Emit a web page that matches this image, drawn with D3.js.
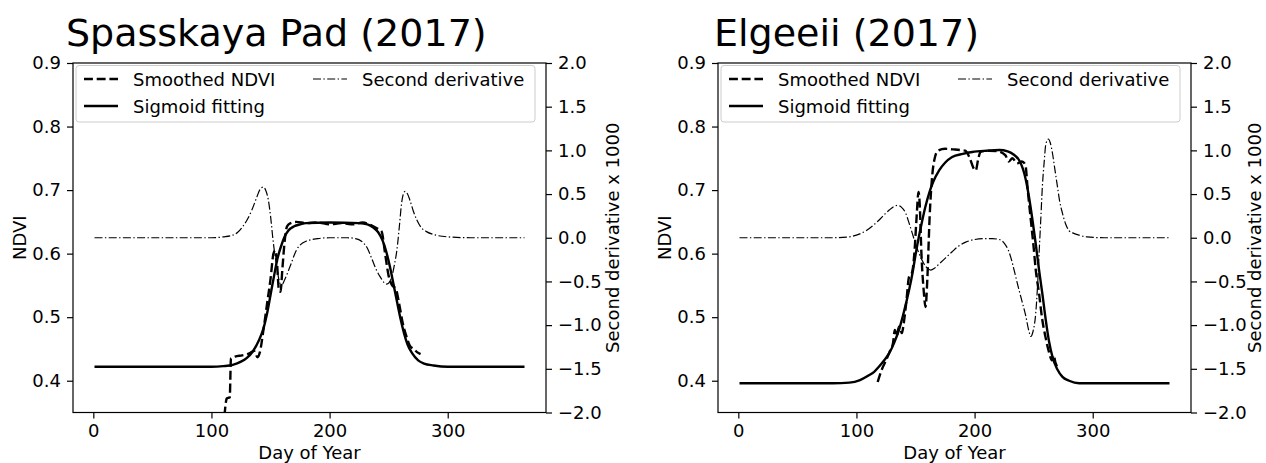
<!DOCTYPE html>
<html><head><meta charset="utf-8">
<script src="https://cdn.jsdelivr.net/npm/d3@7"></script>
<style>
body{margin:0;background:#fff}
svg{display:block}
text{font-family:"DejaVu Sans",sans-serif;fill:#000}
</style>
</head><body>
<svg id="c" width="1266" height="463"></svg>
<script>
const titles = ["Spasskaya Pad (2017)", "Elgeeii (2017)"];
const xTicks = [0, 100, 200, 300];
const ndviTicks = [0.4, 0.5, 0.6, 0.7, 0.8, 0.9];
const d2Ticks = [-2, -1.5, -1, -0.5, 0, 0.5, 1, 1.5, 2];
const legendLabels = ["Smoothed NDVI", "Second derivative", "Sigmoid fitting"];
const axisLabels = ["Day of Year", "NDVI", "Second derivative x 1000"];

// Spasskaya Pad: [day, value]
const spasskayaSmoothed = [[111,0.345],[113,0.372],[115.5,0.374],[116.5,0.435],[120,0.438],[126,0.44],[132,0.443],[136,0.447],[139,0.437],[141,0.445],[144,0.48],[147,0.52],[150,0.56],[152.5,0.6],[154,0.605],[155.5,0.585],[157,0.545],[158.5,0.54],[160,0.575],[162,0.62],[164,0.643],[167,0.648],[172,0.65],[180,0.648],[190,0.649],[200,0.646],[210,0.648],[220,0.646],[228,0.649],[235,0.645],[240,0.64],[244,0.635],[247,0.6],[250,0.565],[253,0.55],[256,0.545],[259,0.52],[262,0.49],[265,0.47],[268,0.455],[271,0.45],[274,0.445],[277,0.442]];
const spasskayaSigmoid = [[1,0.422],[100,0.422],[110,0.423],[118,0.425],[125,0.43],[130,0.436],[135,0.446],[140,0.463],[144,0.482],[147,0.505],[150,0.535],[153,0.565],[156,0.593],[159,0.612],[162,0.627],[165,0.636],[170,0.643],[175,0.646],[180,0.648],[200,0.649],[225,0.648],[232,0.646],[237,0.641],[241,0.634],[245,0.62],[248,0.603],[251,0.58],[254,0.553],[257,0.525],[260,0.498],[263,0.475],[266,0.457],[270,0.443],[275,0.432],[280,0.427],[288,0.424],[300,0.422],[365,0.422]];
const spasskayaDeriv = [[1,0],[100,0],[110,0.01],[118,0.03],[122,0.06],[126,0.12],[130,0.2],[134,0.31],[138,0.45],[141,0.55],[144,0.58],[146,0.54],[148.2,0.43],[150,0.25],[152.4,-0.06],[155.3,-0.33],[158,-0.52],[160,-0.53],[162,-0.48],[166.5,-0.33],[172,-0.14],[180,-0.04],[190,-0.01],[200,0],[215,0],[222,-0.01],[227,-0.04],[232,-0.12],[236,-0.25],[240,-0.38],[243,-0.45],[246,-0.51],[248.4,-0.53],[251,-0.5],[253,-0.43],[255,-0.3],[257,-0.14],[259,0.12],[261,0.4],[263,0.52],[264,0.53],[266,0.5],[268,0.43],[271,0.3],[274,0.2],[278,0.11],[282,0.07],[290,0.03],[300,0.01],[320,0],[365,0]];

// Elgeeii: [day, value]
const elgeeiiSmoothed = [[118,0.398],[120,0.41],[122,0.42],[125,0.432],[128,0.445],[131,0.46],[132.5,0.48],[134,0.47],[136,0.485],[138.5,0.475],[140,0.49],[142,0.52],[144.6,0.564],[147,0.57],[149,0.6],[151,0.66],[152.5,0.697],[153.5,0.68],[155,0.6],[157,0.54],[158.5,0.516],[160,0.56],[162,0.66],[164.3,0.726],[166.5,0.752],[169,0.762],[175,0.765],[182,0.764],[188,0.763],[192,0.762],[196,0.75],[199,0.735],[201,0.731],[203,0.748],[205,0.76],[212,0.762],[220,0.761],[226,0.755],[229,0.745],[232,0.75],[236,0.742],[240,0.745],[243,0.74],[245,0.7],[247.6,0.653],[250,0.61],[251.8,0.574],[254.6,0.537],[257,0.5],[260,0.469],[263,0.445],[265.5,0.432],[267,0.44],[268.5,0.428],[270,0.422]];
const elgeeiiSigmoid = [[1,0.396],[80,0.396],[94,0.397],[103,0.401],[110,0.408],[115,0.414],[119,0.422],[123,0.431],[127.6,0.443],[132,0.46],[136,0.48],[140,0.507],[144.6,0.543],[147.5,0.57],[150.2,0.6],[153,0.628],[155.8,0.653],[158.5,0.675],[161.5,0.695],[165,0.713],[170,0.731],[175,0.743],[181,0.752],[190,0.757],[198,0.76],[210,0.762],[221,0.763],[228,0.761],[233,0.756],[237.7,0.747],[241,0.733],[243.4,0.716],[246,0.69],[249,0.653],[252,0.612],[254.6,0.574],[257.5,0.535],[260.3,0.495],[263,0.462],[266,0.437],[270,0.418],[274.4,0.406],[280,0.4],[288.5,0.396],[365,0.396]];
const elgeeiiDeriv = [[1,0],[80,0],[94,0.01],[100,0.03],[108,0.08],[114,0.14],[119,0.2],[124,0.27],[128,0.32],[132,0.36],[135,0.37],[138,0.35],[141.7,0.28],[144.5,0.17],[147.3,0.05],[150,-0.07],[153,-0.18],[156,-0.27],[158.7,-0.33],[162.9,-0.37],[166,-0.35],[170,-0.3],[175.5,-0.23],[181,-0.16],[186,-0.1],[192.5,-0.05],[200,-0.02],[207,-0.01],[215,-0.01],[221,-0.02],[225.5,-0.07],[228.5,-0.14],[231.2,-0.25],[234,-0.4],[236.9,-0.56],[240,-0.72],[243.4,-0.9],[246,-1.07],[247.6,-1.13],[249.5,-1.07],[251.8,-0.86],[253.3,-0.55],[254.6,-0.18],[256,0.2],[257.4,0.59],[259,0.88],[260.3,1.07],[262.5,1.13],[264,1.09],[265.9,0.97],[268,0.78],[270.1,0.59],[272,0.42],[274.4,0.28],[277,0.16],[280,0.08],[284,0.05],[288.5,0.03],[295,0.01],[310,0],[365,0]];

const panels = [
  {title: titles[0], smoothed: spasskayaSmoothed, sigmoid: spasskayaSigmoid, deriv: spasskayaDeriv, left: 73, titleX: 66, y2LabelOff: 73},
  {title: titles[1], smoothed: elgeeiiSmoothed, sigmoid: elgeeiiSigmoid, deriv: elgeeiiDeriv, left: 718, titleX: 714, y2LabelOff: 70}
];

const svg = d3.select("#c");
const W = 473, plotTop = 63, plotBottom = 412.5;
const TL = 6, TP = 6, FS = 18;

panels.forEach((p, i) => {
  const L = p.left, R = L + W;
  const x = d3.scaleLinear().domain([-17.2, 383.2]).range([L, R]);
  const y = d3.scaleLinear().domain([0.35, 0.9]).range([plotBottom, plotTop]);
  const y2 = d3.scaleLinear().domain([-2, 2]).range([plotBottom, plotTop]);
  const g = svg.append("g");

  const clipId = "clip" + i;
  svg.append("clipPath").attr("id", clipId).append("rect")
    .attr("x", L).attr("y", plotTop).attr("width", W).attr("height", plotBottom - plotTop);

  const line = (sx, sy) => d3.line().x(d => sx(d[0])).y(d => sy(d[1])).curve(d3.curveMonotoneX);
  const lg = g.append("g").attr("clip-path", `url(#${clipId})`);
  lg.append("path").datum(p.smoothed).attr("d", line(x, y))
    .attr("fill", "none").attr("stroke", "#000").attr("stroke-width", 2.4)
    .attr("stroke-dasharray", "8.9,3.8");
  lg.append("path").datum(p.sigmoid).attr("d", line(x, y))
    .attr("fill", "none").attr("stroke", "#000").attr("stroke-width", 2.4);
  lg.append("path").datum(p.deriv).attr("d", line(x, y2))
    .attr("fill", "none").attr("stroke", "#000").attr("stroke-width", 1.2)
    .attr("stroke-dasharray", "8,2.4,1.4,2.4");

  const styleAxis = sel => {
    sel.select(".domain").remove();
    sel.selectAll(".tick line").attr("stroke", "#000").attr("stroke-width", 1.2);
    sel.selectAll(".tick text").attr("font-size", FS).attr("font-family", "DejaVu Sans");
  };
  g.append("g").attr("transform", `translate(0,${plotBottom})`)
    .call(d3.axisBottom(x).tickValues(xTicks).tickSize(TL).tickPadding(TP).tickFormat(d3.format("d")))
    .call(styleAxis);
  g.append("g").attr("transform", `translate(${L},0)`)
    .call(d3.axisLeft(y).tickValues(ndviTicks).tickSize(TL).tickPadding(TP).tickFormat(d3.format(".1f")))
    .call(styleAxis);
  g.append("g").attr("transform", `translate(${R},0)`)
    .call(d3.axisRight(y2).tickValues(d2Ticks).tickSize(TL).tickPadding(TP).tickFormat(d3.format(".1f")))
    .call(styleAxis);

  g.append("rect").attr("x", L).attr("y", plotTop).attr("width", W).attr("height", plotBottom - plotTop)
    .attr("fill", "none").attr("stroke", "#000").attr("stroke-width", 1.2);

  g.append("text").attr("x", p.titleX).attr("y", 46).attr("font-size", 38).text(p.title);
  g.append("text").attr("x", (L + R) / 2).attr("y", 459).attr("text-anchor", "middle")
    .attr("font-size", FS).text(axisLabels[0]);
  g.append("text").attr("transform", `translate(${L - 47},${(plotTop + plotBottom) / 2}) rotate(-90)`)
    .attr("text-anchor", "middle").attr("font-size", FS).text(axisLabels[1]);
  g.append("text").attr("transform", `translate(${R + p.y2LabelOff},${(plotTop + plotBottom) / 2}) rotate(-90)`)
    .attr("text-anchor", "middle").attr("font-size", FS).text(axisLabels[2]);

  const leg = g.append("g");
  leg.append("rect").attr("x", L + 3).attr("y", 65.5).attr("width", 459).attr("height", 56.5)
    .attr("rx", 3).attr("fill", "#fff").attr("fill-opacity", 0.8)
    .attr("stroke", "#ccc").attr("stroke-width", 1);
  const items = [
    {label: legendLabels[0], hx: L + 11, ty: 79, dash: "8.9,3.8", w: 2.4},
    {label: legendLabels[1], hx: L + 240, ty: 79, dash: "8,2.4,1.4,2.4", w: 1.2},
    {label: legendLabels[2], hx: L + 11, ty: 106, dash: null, w: 2.4}
  ];
  items.forEach(it => {
    leg.append("line").attr("x1", it.hx).attr("x2", it.hx + 34).attr("y1", it.ty).attr("y2", it.ty)
      .attr("stroke", "#000").attr("stroke-width", it.w)
      .attr("stroke-dasharray", it.dash);
    leg.append("text").attr("x", it.hx + 49).attr("y", it.ty + 6.5).attr("font-size", FS).text(it.label);
  });
});
</script>
</body></html>
